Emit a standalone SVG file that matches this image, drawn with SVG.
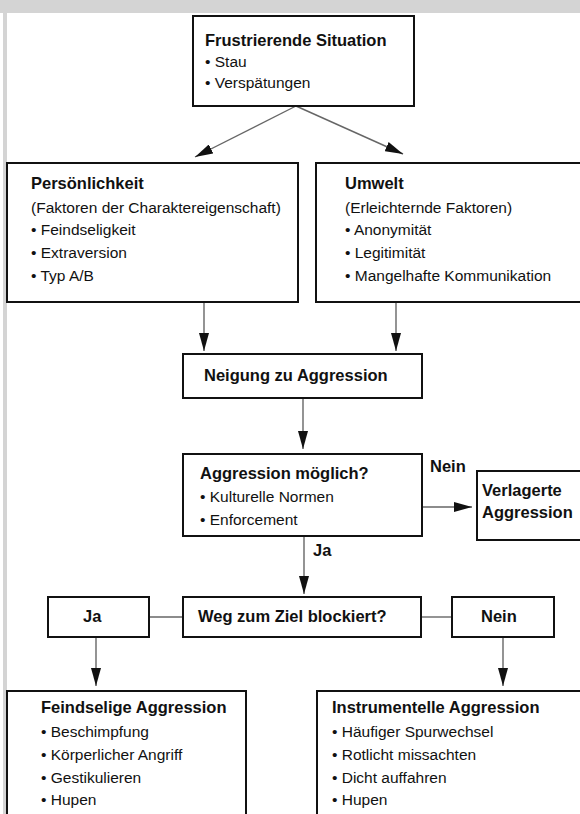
<svg xmlns="http://www.w3.org/2000/svg" width="580" height="814" viewBox="0 0 580 814">
<defs>
<marker id="ah" markerUnits="userSpaceOnUse" markerWidth="18" markerHeight="10" refX="18" refY="5" orient="auto">
<path d="M0,0 L18,5 L0,10 z" fill="#111"/>
</marker>
<style>
.box{fill:#fff;stroke:#111;stroke-width:2}
.t{font-family:"Liberation Sans",Arial,sans-serif;font-size:15.5px;fill:#111}
.b{font-family:"Liberation Sans",Arial,sans-serif;font-size:16.5px;font-weight:bold;fill:#111}
.c{stroke:#666;stroke-width:1.4;fill:none}
.ca{stroke:#666;stroke-width:1.4;fill:none;marker-end:url(#ah)}
</style>
</defs>
<rect x="0" y="0" width="580" height="814" fill="#fff"/>
<rect x="0" y="0" width="580" height="13" fill="#d4d4d4"/>
<rect x="3" y="13" width="4" height="801" fill="#d4d4d4"/>

<g id="connectors">
<line class="ca" x1="296" y1="106" x2="195" y2="157"/>
<line class="ca" x1="296" y1="106" x2="403" y2="154"/>
<line class="ca" x1="204" y1="302" x2="204" y2="351"/>
<line class="ca" x1="396" y1="302" x2="396" y2="351"/>
<line class="ca" x1="303" y1="398" x2="303" y2="449"/>
<line class="ca" x1="422" y1="507" x2="472" y2="507"/>
<line class="ca" x1="304" y1="536" x2="304" y2="594"/>
<line class="c" x1="149" y1="617" x2="183" y2="617"/>
<line class="c" x1="421" y1="617" x2="452" y2="617"/>
<line class="ca" x1="96" y1="637" x2="96" y2="686"/>
<line class="ca" x1="503" y1="637" x2="503" y2="686"/>
</g>

<g id="frustrierende">
<rect class="box" x="193" y="16" width="221" height="90"/>
<text class="b" x="205" y="46">Frustrierende Situation</text>
<text class="t" x="205" y="67">• Stau</text>
<text class="t" x="205" y="88">• Verspätungen</text>
</g>

<g id="persoenlichkeit">
<rect class="box" x="7" y="163" width="291" height="139"/>
<text class="b" x="31" y="189">Persönlichkeit</text>
<text class="t" x="31" y="213">(Faktoren der Charaktereigenschaft)</text>
<text class="t" x="31" y="235">• Feindseligkeit</text>
<text class="t" x="31" y="258">• Extraversion</text>
<text class="t" x="31" y="281">• Typ A/B</text>
</g>

<g id="umwelt">
<rect class="box" x="316" y="163" width="270" height="139"/>
<text class="b" x="345" y="189">Umwelt</text>
<text class="t" x="345" y="213">(Erleichternde Faktoren)</text>
<text class="t" x="345" y="235">• Anonymität</text>
<text class="t" x="345" y="258">• Legitimität</text>
<text class="t" x="345" y="281">• Mangelhafte Kommunikation</text>
</g>

<g id="neigung">
<rect class="box" x="183" y="354" width="239" height="44"/>
<text class="b" x="204" y="381">Neigung zu Aggression</text>
</g>

<g id="aggression-moeglich">
<rect class="box" x="183" y="454" width="239" height="82"/>
<text class="b" x="200" y="479">Aggression möglich?</text>
<text class="t" x="200" y="502">• Kulturelle Normen</text>
<text class="t" x="200" y="525">• Enforcement</text>
</g>

<g id="label-nein">
<text class="b" x="430" y="472">Nein</text>
</g>

<g id="verlagerte">
<rect class="box" x="477" y="471" width="110" height="69"/>
<text class="b" x="482" y="496">Verlagerte</text>
<text class="b" x="482" y="518">Aggression</text>
</g>

<g id="label-ja">
<text class="b" x="313" y="556">Ja</text>
</g>

<g id="ja">
<rect class="box" x="48" y="597" width="101" height="40"/>
<text class="b" x="83" y="622">Ja</text>
</g>

<g id="weg">
<rect class="box" x="183" y="597" width="238" height="40"/>
<text class="b" x="198" y="622">Weg zum Ziel blockiert?</text>
</g>

<g id="nein">
<rect class="box" x="452" y="597" width="102" height="40"/>
<text class="b" x="481" y="622">Nein</text>
</g>

<g id="feindselige">
<rect class="box" x="7" y="691" width="239" height="140"/>
<text class="b" x="41" y="713">Feindselige Aggression</text>
<text class="t" x="41" y="737">• Beschimpfung</text>
<text class="t" x="41" y="760">• Körperlicher Angriff</text>
<text class="t" x="41" y="783">• Gestikulieren</text>
<text class="t" x="41" y="805">• Hupen</text>
</g>

<g id="instrumentelle">
<rect class="box" x="317" y="691" width="270" height="140"/>
<text class="b" x="332" y="713">Instrumentelle Aggression</text>
<text class="t" x="332" y="737">• Häufiger Spurwechsel</text>
<text class="t" x="332" y="760">• Rotlicht missachten</text>
<text class="t" x="332" y="783">• Dicht auffahren</text>
<text class="t" x="332" y="805">• Hupen</text>
</g>
</svg>
